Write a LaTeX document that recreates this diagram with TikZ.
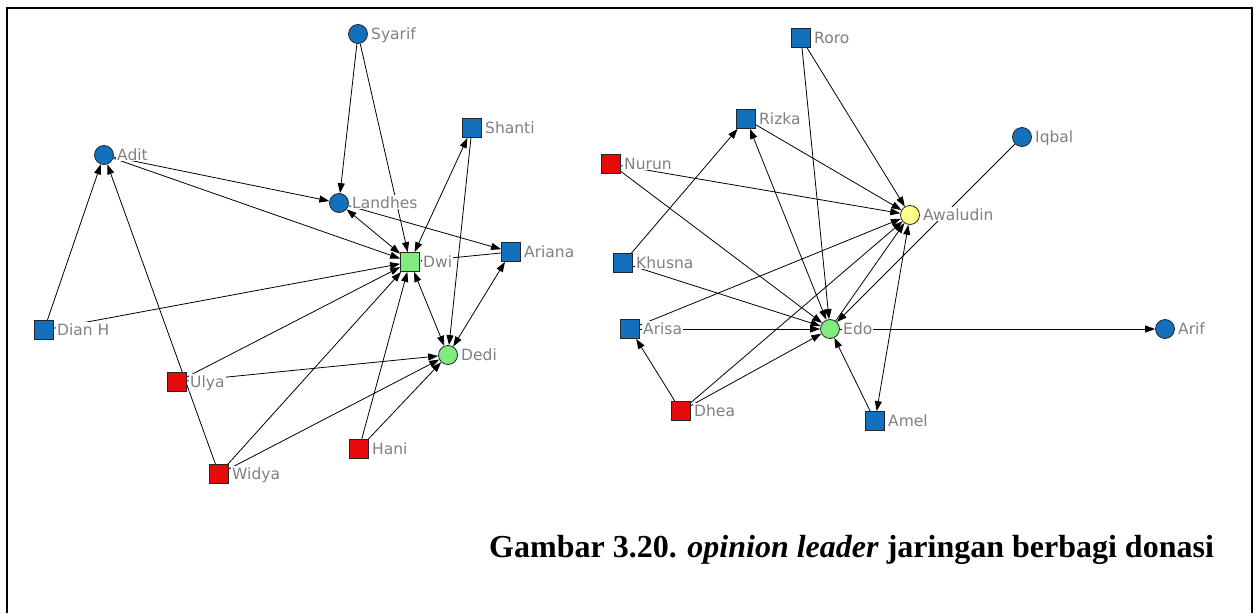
\documentclass[tikz,border=0pt]{standalone}
\usepackage{fontspec}
\setmainfont{Liberation Serif}
\newfontfamily\labfont{DejaVu Sans}
\usetikzlibrary{arrows.meta,backgrounds}
\definecolor{nblue}{RGB}{18,112,188}
\definecolor{nred}{RGB}{232,10,10}
\definecolor{ngreen}{RGB}{128,236,128}
\definecolor{nyellow}{RGB}{255,255,140}
\definecolor{lgray}{RGB}{128,128,128}
\begin{document}
\begin{tikzpicture}[x=1pt,y=-1pt,
  vtx/.style={draw=black!85,line width=0.8pt,inner sep=0pt,minimum size=19pt},
  sq/.style={vtx,rectangle},
  cr/.style={vtx,circle},
  lbl/.style={anchor=base west,fill=white,inner sep=1pt,text=lgray,font=\labfont\fontsize{15.5}{15.5}\selectfont},
  edge/.style={line width=0.8pt,-{Triangle[length=10pt,width=7pt]}},
  bi/.style={line width=0.8pt,{Triangle[length=10pt,width=7pt]}-{Triangle[length=10pt,width=7pt]}}
]
\useasboundingbox (0,0) rectangle (1255,613);
\draw[line width=2pt] (7,613) -- (7,8) -- (1252,8) -- (1252,613);

% left graph nodes
\node[cr,fill=nblue] (syarif) at (358,34) {};
\node[cr,fill=nblue] (adit) at (104,155) {};
\node[cr,fill=nblue] (landhes) at (339,203) {};
\node[sq,fill=nblue] (shanti) at (472,128) {};
\node[sq,fill=ngreen] (dwi) at (410,262) {};
\node[sq,fill=nblue] (ariana) at (511,252) {};
\node[sq,fill=nblue] (dianh) at (44,330) {};
\node[cr,fill=ngreen] (dedi) at (448,355) {};
\node[sq,fill=nred] (ulya) at (177,382) {};
\node[sq,fill=nred] (hani) at (359,449) {};
\node[sq,fill=nred] (widya) at (219,474) {};

% right graph nodes
\node[sq,fill=nblue] (roro) at (801,38) {};
\node[sq,fill=nblue] (rizka) at (746,119) {};
\node[cr,fill=nblue] (iqbal) at (1022,137) {};
\node[sq,fill=nred] (nurun) at (611,164) {};
\node[cr,fill=nyellow] (awaludin) at (910,215) {};
\node[sq,fill=nblue] (khusna) at (623,263) {};
\node[sq,fill=nblue] (arisa) at (630,329) {};
\node[cr,fill=ngreen] (edo) at (830,329) {};
\node[cr,fill=nblue] (arif) at (1165,329) {};
\node[sq,fill=nred] (dhea) at (681,411) {};
\node[sq,fill=nblue] (amel) at (875,421) {};

\begin{pgfonlayer}{background}
% left edges
\draw[edge] (syarif) -- (landhes);
\draw[edge] (syarif) -- (dwi);
\draw[edge] (adit) -- (landhes);
\draw[edge] (adit) -- (dwi);
\draw[edge] (dianh) -- (adit);
\draw[edge] (widya) -- (adit);
\draw[edge] (dianh) -- (dwi);
\draw[edge] (ulya) -- (dwi);
\draw[edge] (ulya) -- (dedi);
\draw[edge] (widya) -- (dwi);
\draw[edge] (widya) -- (dedi);
\draw[edge] (hani) -- (dwi);
\draw[edge] (hani) -- (dedi);
\draw[bi] (landhes) -- (dwi);
\draw[edge] (landhes) -- (ariana);
\draw[bi] (dwi) -- (shanti);
\draw[edge] (shanti) -- (dedi);
\draw[edge] (ariana) -- (dwi);
\draw[bi] (dwi) -- (dedi);
\draw[bi] (dedi) -- (ariana);
% right edges
\draw[edge] (roro) -- (awaludin);
\draw[edge] (roro) -- (edo);
\draw[edge] (rizka) -- (awaludin);
\draw[bi] (rizka) -- (edo);
\draw[edge] (khusna) -- (rizka);
\draw[edge] (nurun) -- (awaludin);
\draw[edge] (nurun) -- (edo);
\draw[edge] (khusna) -- (edo);
\draw[edge] (arisa) -- (awaludin);
\draw[edge] (arisa) -- (edo);
\draw[edge] (dhea) -- (arisa);
\draw[edge] (dhea) -- (edo);
\draw[edge] (dhea) -- (awaludin);
\draw[edge] (edo) -- (awaludin);
\draw[edge] (iqbal) -- (edo);
\draw[bi] (awaludin) -- (amel);
\draw[edge] (amel) -- (edo);
\draw[edge] (edo) -- (arif);
\end{pgfonlayer}

% labels
\foreach \n/\t in {syarif/Syarif,adit/Adit,landhes/Landhes,shanti/Shanti,dwi/Dwi,ariana/Ariana,dianh/Dian H,dedi/Dedi,ulya/Ulya,hani/Hani,widya/Widya,roro/Roro,rizka/Rizka,iqbal/Iqbal,nurun/Nurun,awaludin/Awaludin,khusna/Khusna,arisa/Arisa,edo/Edo,arif/Arif,dhea/Dhea,amel/Amel}
  \node[lbl] (l-\n) at ([xshift=12pt,yshift=-5pt]\n.center) {\t};

\node[anchor=base west,inner sep=0pt,font=\bfseries\fontsize{32}{32}\selectfont] (caption) at (489,557) {Gambar 3.20. \textit{opinion leader} jaringan berbagi donasi};
\end{tikzpicture}
\end{document}
